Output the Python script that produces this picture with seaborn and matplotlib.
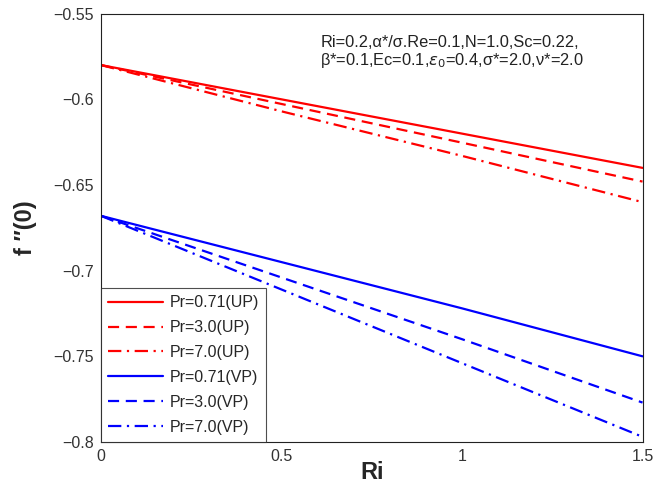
"""Skin friction f''(0) vs Ri for several Pr values (UP / VP cases)."""

import pandas as pd
import matplotlib
matplotlib.use("Agg")
import matplotlib.pyplot as plt
import seaborn as sns

ri = [0.0, 0.5, 1.0, 1.5]

# UP case (red)
up_pr071 = [-0.580, -0.600, -0.620, -0.640]
up_pr30 = [-0.580, -0.6027, -0.6253, -0.648]
up_pr70 = [-0.580, -0.607, -0.633, -0.660]
# VP case (blue)
vp_pr071 = [-0.668, -0.695, -0.722, -0.750]
vp_pr30 = [-0.668, -0.704, -0.740, -0.777]
vp_pr70 = [-0.668, -0.711, -0.754, -0.797]

labels = ["Pr=0.71(UP)", "Pr=3.0(UP)", "Pr=7.0(UP)",
          "Pr=0.71(VP)", "Pr=3.0(VP)", "Pr=7.0(VP)"]
series = [up_pr071, up_pr30, up_pr70, vp_pr071, vp_pr30, vp_pr70]
colors = ["#ff0000"] * 3 + ["#0000ff"] * 3
styles = ["-", (0, (5, 3)), (0, (6, 2.5, 1, 2.5))] * 2

sns.set_style("white")
plt.rcParams["font.family"] = ["Liberation Sans", "DejaVu Sans"]
plt.rcParams["axes.unicode_minus"] = True

fig = plt.figure(figsize=(6.62, 4.98), dpi=100)
ax = fig.add_axes([0.1526, 0.1125, 0.818, 0.86])

for lab, vals, c, ls in zip(labels, series, colors, styles):
    d = pd.DataFrame({"Ri": ri, "f": vals})
    sns.lineplot(data=d, x="Ri", y="f", ax=ax, color=c, linestyle=ls,
                 linewidth=1.6, label=lab)

ax.set_xlim(0, 1.5)
ax.set_ylim(-0.8, -0.55)
ax.set_xticks([0, 0.5, 1, 1.5])
ax.set_xticklabels(["0", "0.5", "1", "1.5"])
ax.set_yticks([-0.8, -0.75, -0.7, -0.65, -0.6, -0.55])
ax.set_yticklabels(["\u22120.8", "\u22120.75", "\u22120.7", "\u22120.65",
                    "\u22120.6", "\u22120.55"])
ax.tick_params(direction="in", length=4, labelsize=11.5, colors="#333333",
               labelcolor="#333333", pad=5)
for s in ax.spines.values():
    s.set_color("#222222")
    s.set_linewidth(0.8)

ax.set_xlabel("Ri", fontsize=17, fontweight="bold", labelpad=-2)
ax.set_ylabel("f \u2032\u2032(0)", fontsize=17, fontweight="bold", labelpad=12)

ax.text(0.405, 0.95,
        "Ri=0.2,\u03b1*/\u03c3.Re=0.1,N=1.0,Sc=0.22,\n"
        "\u03b2*=0.1,Ec=0.1,$\\epsilon_0$=0.4,\u03c3*=2.0,\u03bd*=2.0",
        transform=ax.transAxes, fontsize=11.8, va="top", ha="left",
        linespacing=1.05, color="#222222")

leg = ax.legend(loc="lower left", fontsize=11.5, frameon=True, fancybox=False,
                borderaxespad=0.0, handlelength=3.4, labelspacing=0.62,
                borderpad=0.45, handletextpad=0.45)
leg.get_frame().set_edgecolor("#222222")
leg.get_frame().set_linewidth(0.8)

fig.savefig("out.png", dpi=100)
plt.close(fig)
